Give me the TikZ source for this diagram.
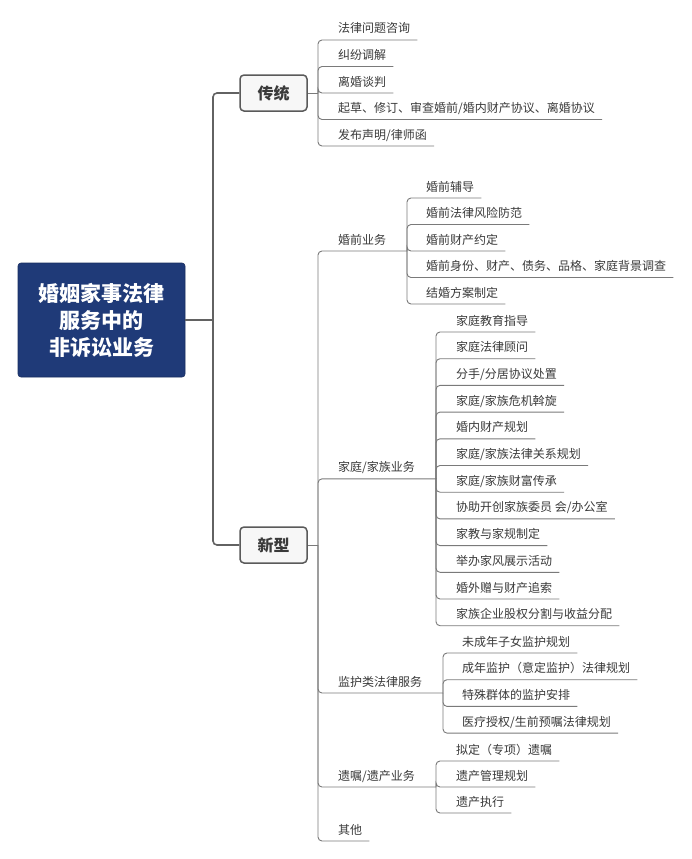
\documentclass[tikz,border=0pt]{standalone}
\usepackage{fontspec}
\setmainfont{Noto Sans CJK SC}
\definecolor{rootblue}{HTML}{1F3A78}
\definecolor{boxfill}{HTML}{F7F7F7}
\definecolor{boxline}{HTML}{5A5A5A}
\definecolor{trunkc}{HTML}{626262}
\definecolor{branchc}{HTML}{7A7A7A}
\definecolor{txt}{HTML}{3A3A3A}
\tikzset{
  rootbox/.style={fill=rootblue, draw=rootblue!80!black, line width=0.6pt, rounded corners=3pt,
    minimum width=167pt, minimum height=114pt, align=center, text=white,
    font=\fontsize{21}{27}\selectfont\bfseries, inner sep=0pt},
  catbox/.style={fill=boxfill, draw=boxline, line width=1.5pt, rounded corners=4pt,
    minimum width=67pt, minimum height=36pt, text=txt,
    font=\fontsize{16}{18}\selectfont\bfseries, inner sep=0pt},
  leaf/.style={anchor=base west, inner sep=0pt, text=txt, font=\fontsize{12}{14}\selectfont},
  trunk/.style={draw=trunkc, line width=1.6pt, rounded corners=4pt},
  branch/.style={draw=branchc, line width=0.9pt, rounded corners=4pt},
}
% #1 name, #2 parent coordinate, #3 text x, #4 underline y, #5 text
\newcommand\leafitem[5]{%
  \node[leaf] (#1) at (#3,#4-7) {#5};
  \path (#1.east) ++(7pt,0) coordinate (#1-t);
  \coordinate (#1-e) at (#1-t |- 0,#4);
  \draw[branch] (#2) |- (#1-e);
}
% #1 name, #2 parent coordinate, #3 text x, #4 y, #5 bracket x, #6 text
\newcommand\miditem[6]{%
  \node[leaf] (#1) at (#3,#4-7) {#6};
  \coordinate (#1-e) at (#5,#4);
  \draw[branch] (#2) |- (#1-e);
}
\begin{document}
\begin{tikzpicture}[x=1pt,y=-1pt]
\useasboundingbox[fill=white] (0,0) rectangle (692,859);

% root and first level
\node[rootbox] (root) at (101.5,320) {婚姻家事法律\\服务中的\\非诉讼业务};
\node[catbox] (trad) at (273.5,93) {传统};
\node[catbox] (new) at (273.5,545) {新型};
\coordinate (J) at (213,320);
\draw[trunk] (root.east) -- (J);
\draw[trunk] (J) |- (trad.west);
\draw[trunk] (J) |- (new.west);

\coordinate (T1) at (318,93);
\coordinate (N1) at (318,545);
\draw[branch] (trad.east) -- (T1);
\draw[branch] (new.east) -- (N1);

% 传统
\leafitem{t1}{T1}{338}{40}{法律问题咨询}
\leafitem{t2}{T1}{338}{66.5}{纠纷调解}
\leafitem{t3}{T1}{338}{93}{离婚谈判}
\leafitem{t4}{T1}{338}{119.5}{起草、修订、审查婚前/婚内财产协议、离婚协议}
\leafitem{t5}{T1}{338}{146}{发布声明/律师函}

% 新型 second level
\miditem{pre}{N1}{338}{251}{407}{婚前业务}
\miditem{fam}{N1}{338}{478.85}{436}{家庭/家族业务}
\miditem{gua}{N1}{338}{693}{443}{监护类法律服务}
\miditem{wil}{N1}{338}{787}{436}{遗嘱/遗产业务}
\leafitem{oth}{N1}{338}{841}{其他}

% 婚前业务
\leafitem{p1}{pre-e}{426}{198}{婚前辅导}
\leafitem{p2}{pre-e}{426}{224.5}{婚前法律风险防范}
\leafitem{p3}{pre-e}{426}{251}{婚前财产约定}
\leafitem{p4}{pre-e}{426}{277.5}{婚前身份、财产、债务、品格、家庭背景调查}
\leafitem{p5}{pre-e}{426}{304}{结婚方案制定}

% 家庭/家族业务
\leafitem{f1}{fam-e}{456}{332}{家庭教育指导}
\leafitem{f2}{fam-e}{456}{358.7}{家庭法律顾问}
\leafitem{f3}{fam-e}{456}{385.4}{分手/分居协议处置}
\leafitem{f4}{fam-e}{456}{412.1}{家庭/家族危机斡旋}
\leafitem{f5}{fam-e}{456}{438.8}{婚内财产规划}
\leafitem{f6}{fam-e}{456}{465.5}{家庭/家族法律关系规划}
\leafitem{f7}{fam-e}{456}{492.2}{家庭/家族财富传承}
\leafitem{f8}{fam-e}{456}{518.9}{协助开创家族委员 会/办公室}
\leafitem{f9}{fam-e}{456}{545.6}{家教与家规制定}
\leafitem{f10}{fam-e}{456}{572.3}{举办家风展示活动}
\leafitem{f11}{fam-e}{456}{599}{婚外赠与财产追索}
\leafitem{f12}{fam-e}{456}{625.7}{家族企业股权分割与收益分配}

% 监护类法律服务
\leafitem{g1}{gua-e}{462}{653}{未成年子女监护规划}
\leafitem{g2}{gua-e}{462}{679.7}{成年监护（意定监护）法律规划}
\leafitem{g3}{gua-e}{462}{706.4}{特殊群体的监护安排}
\leafitem{g4}{gua-e}{462}{733.1}{医疗授权/生前预嘱法律规划}

% 遗嘱/遗产业务
\leafitem{w1}{wil-e}{456}{761}{拟定（专项）遗嘱}
\leafitem{w2}{wil-e}{456}{787}{遗产管理规划}
\leafitem{w3}{wil-e}{456}{813}{遗产执行}
\end{tikzpicture}
\end{document}
